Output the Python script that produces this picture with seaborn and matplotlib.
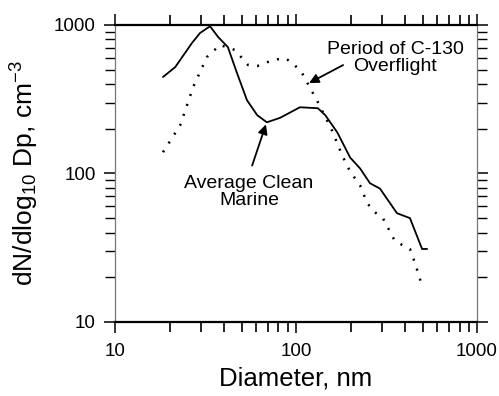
import matplotlib
matplotlib.use("Agg")
import matplotlib.pyplot as plt
import seaborn as sns
import numpy as np
import pandas as pd
from matplotlib.ticker import NullFormatter, FixedLocator, FixedFormatter

# Average clean marine size distribution
clean_d = [18.4, 21.5, 26.6, 29.5, 33.5, 37.1, 42, 47.2, 53.6, 61, 69, 81.7,
           105, 132, 145, 169, 199, 226, 256, 270, 291, 361, 426, 497, 530]
clean_n = [446, 520, 755, 883, 980, 830, 710, 474, 311, 247, 221, 237,
           279, 275, 247, 189, 128, 108, 86, 83, 79, 54, 50, 31, 31]

# Size distribution during the C-130 overflight
over_d = [18.4, 22.9, 27, 32.2, 38, 46, 54.3, 61, 74.5, 87, 96, 108, 119,
          132, 158, 180, 199, 226, 246, 266, 302, 352, 426, 454, 497]
over_n = [139, 211, 381, 608, 733, 678, 537, 529, 580, 598, 553, 474, 381,
          302, 195, 132, 103, 83, 64, 56, 50, 35, 31, 25, 17.5]

x_ticks = [10, 100, 1000]
x_tick_labels = ["10", "100", "1000"]
y_ticks = [10, 100, 1000]
y_tick_labels = ["10", "100", "1000"]

sns.set_style("ticks")
plt.rcParams["font.family"] = ["Liberation Sans", "DejaVu Sans"]
plt.rcParams["mathtext.fontset"] = "custom"
plt.rcParams["mathtext.rm"] = "Liberation Sans"
plt.rcParams["mathtext.it"] = "Liberation Sans:italic"
plt.rcParams["text.color"] = "black"
plt.rcParams["axes.labelcolor"] = "black"
plt.rcParams["xtick.labelcolor"] = "black"
plt.rcParams["ytick.labelcolor"] = "black"

clean_df = pd.DataFrame({"d": clean_d, "n": clean_n})
over_df = pd.DataFrame({"d": over_d, "n": over_n})

fig = plt.figure(figsize=(4.99, 3.96), dpi=100)
ax = fig.add_axes([0.2305, 0.187, 0.7255, 0.750])

sns.lineplot(data=clean_df, x="d", y="n", ax=ax, color="black",
             linewidth=1.3, sort=False, estimator=None)
sns.lineplot(data=over_df, x="d", y="n", ax=ax, color="black",
             linewidth=1.8, sort=False, estimator=None,
             linestyle=(0, (0.8, 3.4)))

ax.set_xscale("log")
ax.set_yscale("log")
ax.set_xlim(10, 1000)
ax.set_ylim(10, 1000)

# decade ticks labelled, 2..9 in each decade as minor ticks
minor = [m * 10 ** e for e in (1, 2) for m in range(2, 10)]
ax.xaxis.set_major_locator(FixedLocator(x_ticks))
ax.xaxis.set_major_formatter(FixedFormatter(x_tick_labels))
ax.yaxis.set_major_locator(FixedLocator(y_ticks))
ax.yaxis.set_major_formatter(FixedFormatter(y_tick_labels))
ax.xaxis.set_minor_locator(FixedLocator(minor))
ax.yaxis.set_minor_locator(FixedLocator(minor))
ax.xaxis.set_minor_formatter(NullFormatter())
ax.yaxis.set_minor_formatter(NullFormatter())

ax.tick_params(which="both", direction="out", top=True, right=True,
               bottom=True, left=True, labelsize=13.5, color="black")
ax.tick_params(axis="x", which="minor", length=7, width=1.2)
ax.tick_params(axis="y", which="minor", length=7, width=1.0)
ax.tick_params(which="major", length=8, width=1.1)
ax.tick_params(axis="y", which="major", pad=6)
ax.tick_params(axis="x", which="major", pad=7)

for side in ("top", "bottom"):
    ax.spines[side].set_linewidth(1.6)
    ax.spines[side].set_color("black")
for side in ("left", "right"):
    ax.spines[side].set_linewidth(0.9)
    ax.spines[side].set_color("#777777")
    ax.spines[side].set_linestyle((0, (1, 1)))
    ax.spines[side].set_visible(True)

ax.set_xlabel("Diameter, nm", fontsize=18.5, labelpad=5)
ax.set_ylabel(r"dN/dlog$_{10}$ Dp, cm$^{-3}$", fontsize=19, labelpad=9)

ax.text(352, 599, "Period of C-130\nOverflight", ha="center", va="center",
        fontsize=14, linespacing=1.0)
ax.annotate("", xy=(118, 406), xytext=(182, 537),
            arrowprops=dict(arrowstyle="-|>", color="black", lw=1.3,
                            mutation_scale=14, shrinkA=0, shrinkB=0))
ax.text(55, 74.5, "Average Clean\nMarine", ha="center", va="center",
        fontsize=14, linespacing=1.0)
ax.annotate("", xy=(68.2, 214), xytext=(57.2, 113),
            arrowprops=dict(arrowstyle="-|>", color="black", lw=1.3,
                            mutation_scale=14, shrinkA=0, shrinkB=0))

fig.savefig("out.png", dpi=100)
